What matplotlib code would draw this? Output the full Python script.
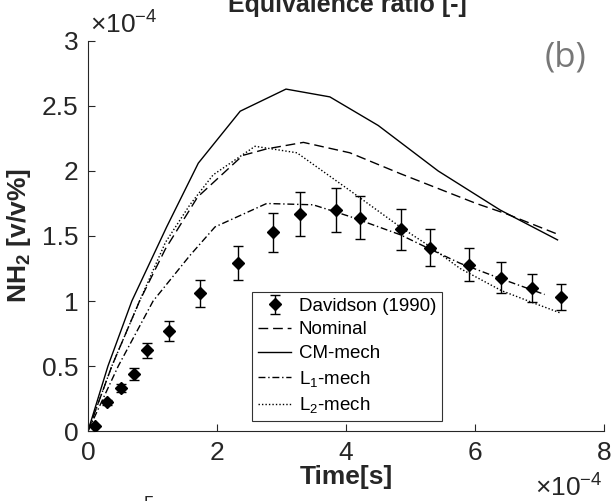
"""
NH2 mole fraction vs time: Davidson (1990) shock-tube data against
four mechanism predictions. Values are stored in units of 1e-4.
"""

import matplotlib.pyplot as plt

plt.rcParams["font.family"] = ["Liberation Sans", "DejaVu Sans"]
plt.rcParams["mathtext.fontset"] = "custom"
plt.rcParams["mathtext.rm"] = "Liberation Sans"
plt.rcParams["mathtext.it"] = "Liberation Sans:italic"
plt.rcParams["mathtext.bf"] = "Liberation Sans:bold"

AX_COLOR = "#262626"

# Davidson (1990) measurements, time [1e-4 s], NH2 [1e-4 v/v%]
exp_t = [0.11, 0.30, 0.51, 0.72, 0.91, 1.25, 1.74, 2.32, 2.87,
         3.28, 3.85, 4.22, 4.85, 5.30, 5.90, 6.41, 6.89, 7.33]
exp_y = [0.04, 0.22, 0.33, 0.44, 0.62, 0.77, 1.06, 1.29, 1.53,
         1.67, 1.70, 1.64, 1.55, 1.41, 1.28, 1.18, 1.10, 1.03]
exp_err = [0.005, 0.02, 0.03, 0.045, 0.06, 0.075, 0.105, 0.13, 0.15,
           0.17, 0.17, 0.165, 0.155, 0.14, 0.13, 0.12, 0.11, 0.10]

nominal_t = [0, 0.37, 0.80, 1.20, 1.70, 2.40, 2.77, 3.34, 4.06, 4.84, 6.02, 6.49, 7.30]
nominal_y = [0, 0.50, 1.00, 1.40, 1.80, 2.12, 2.17, 2.22, 2.14, 1.98, 1.75, 1.67, 1.51]

cm_t = [0, 0.31, 0.68, 1.22, 1.71, 2.36, 3.07, 3.75, 4.50, 5.43, 6.39, 7.28]
cm_y = [0, 0.50, 1.00, 1.57, 2.06, 2.46, 2.63, 2.57, 2.35, 2.00, 1.70, 1.47]

l1_t = [0, 0.47, 1.01, 1.58, 1.97, 2.77, 3.49, 4.06, 4.84, 5.30, 5.77, 6.41, 7.08]
l1_y = [0, 0.50, 1.00, 1.35, 1.57, 1.75, 1.74, 1.65, 1.51, 1.40, 1.29, 1.17, 1.05]

l2_t = [0, 0.37, 0.80, 1.20, 1.58, 1.94, 2.59, 3.24, 4.06, 4.84, 5.30, 5.77, 6.41, 6.88, 7.34]
l2_y = [0, 0.50, 1.00, 1.45, 1.74, 1.97, 2.19, 2.14, 1.85, 1.57, 1.42, 1.25, 1.08, 0.99, 0.905]


def main():
    fig = plt.figure(figsize=(6.11, 5.01), dpi=100)
    ax = fig.add_axes([0.144, 0.1397, 0.8445, 0.7785])

    h_exp = ax.errorbar(exp_t, exp_y, yerr=exp_err, fmt="D", color="black",
                        markersize=6.5, elinewidth=1.0, capsize=3.5, capthick=1.0,
                        label="Davidson (1990)", zorder=3)
    h_nom, = ax.plot(nominal_t, nominal_y, color="black", lw=1.0,
                     dashes=(7, 3.5), label="Nominal")
    h_cm, = ax.plot(cm_t, cm_y, color="black", lw=1.0, label="CM-mech")
    h_l1, = ax.plot(l1_t, l1_y, color="black", lw=1.0, dashes=(5, 2, 1, 2),
                    label="L$_1$-mech")
    h_l2, = ax.plot(l2_t, l2_y, color="black", lw=1.0, dashes=(1, 1.5),
                    label="L$_2$-mech")

    ax.set_xlim(0, 8)
    ax.set_ylim(0, 3)
    ax.set_xticks([0, 2, 4, 6, 8])
    ax.set_yticks([0, 0.5, 1, 1.5, 2, 2.5, 3])
    ax.set_yticklabels(["0", "0.5", "1", "1.5", "2", "2.5", "3"])

    for side in ("top", "right"):
        ax.spines[side].set_visible(False)
    for side in ("left", "bottom"):
        ax.spines[side].set_color(AX_COLOR)
        ax.spines[side].set_linewidth(0.8)
    ax.tick_params(direction="in", length=5, width=0.8, colors=AX_COLOR,
                   labelsize=19, pad=7)

    ax.set_xlabel("Time[s]", fontsize=19, fontweight="bold", color=AX_COLOR,
                  labelpad=0)
    ax.set_ylabel("NH$_\\mathbf{2}$ [v/v%]", fontsize=19, fontweight="bold",
                  color=AX_COLOR, labelpad=6)

    handles = [h_exp, h_nom, h_cm, h_l1, h_l2]
    leg = ax.legend(handles=handles, labels=[h.get_label() for h in handles],
                    loc="lower left", bbox_to_anchor=(0.318, 0.026),
                    borderaxespad=0, fontsize=13.5, frameon=True,
                    fancybox=False, edgecolor="black", handlelength=1.8,
                    handletextpad=0.4, borderpad=0.3, labelspacing=0.35)
    leg.get_frame().set_linewidth(0.8)

    # exponent labels as drawn in the original figure
    fig.text(90 / 611, 1 - 34 / 501, "×10$^{-4}$", fontsize=19,
             color=AX_COLOR, ha="left", va="baseline")
    fig.text(603 / 611, 1 - 497 / 501, "×10$^{-4}$", fontsize=19,
             color=AX_COLOR, ha="right", va="baseline")
    fig.text(88 / 611, 1 - 521 / 501, "×10$^{-5}$", fontsize=19,
             color=AX_COLOR, ha="left", va="baseline")

    fig.text(347 / 611, 1 - 12 / 501, "Equivalence ratio [-]", fontsize=18,
             fontweight="bold", color=AX_COLOR, ha="center", va="baseline")
    fig.text(565 / 611, 1 - 57 / 501, "(b)", fontsize=25, color="#777777",
             family=["Open Sans", "DejaVu Sans"], ha="center", va="center")

    fig.savefig("out.png", dpi=100)
    plt.close(fig)


if __name__ == "__main__":
    main()
